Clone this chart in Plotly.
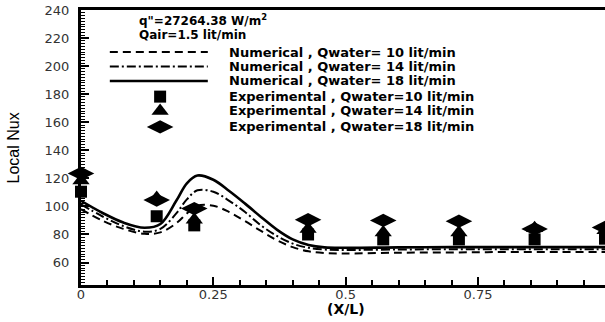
import plotly.graph_objects as go

# ---------------- data ----------------
x_num = [0, 0.04, 0.08, 0.12, 0.15, 0.18, 0.20, 0.22, 0.25, 0.28, 0.31, 0.34,
         0.37, 0.40, 0.43, 0.46, 0.50, 0.60, 0.70, 0.80, 0.90, 1.00]
num_q18 = [104, 95.5, 88.5, 84.8, 87.5, 104, 116.5, 122, 119, 111, 102, 92.5,
           83.5, 76.5, 72.5, 70.8, 70.5, 70.8, 71, 71, 71, 71]
num_q14 = [101.5, 93, 86, 82, 84, 95, 105, 111.5, 110.5, 104, 96, 86.5,
           79, 73.5, 70.5, 69.3, 69, 69.3, 69.5, 69.5, 69.5, 69.5]
num_q10 = [98, 90, 84, 80.5, 81.5, 88, 95, 100.5, 100.5, 96, 89.5, 82.5,
           76, 71, 68, 66.8, 66.5, 67, 67.2, 67.5, 67.5, 67.5]

x_exp = [0, 0.143, 0.214, 0.429, 0.571, 0.714, 0.857, 0.99]
exp_q10 = [110.5, 93, 86.5, 80, 76.5, 76.5, 76.5, 77]
exp_q14 = [118.5, 106, 90.5, 84, 81.5, 81.5, 84.5, 83]
exp_q18 = [123.5, 104.5, 98.5, 90.5, 90, 89.5, 84, 85]

legend_labels = [
    "Numerical , Qwater= 10 lit/min",
    "Numerical , Qwater= 14 lit/min",
    "Numerical , Qwater= 18 lit/min",
    "Experimental , Qwater=10 lit/min",
    "Experimental , Qwater=14 lit/min",
    "Experimental , Qwater=18 lit/min",
]
header_lines = ['q"=27264.38 W/m<sup>2</sup>', "Qair=1.5 lit/min"]

# ---------------- styles ----------------
TXT = "DejaVu Sans"
line_styles = [dict(color="black", width=2, dash="8px,5px"),
               dict(color="black", width=2, dash="9px,3px,2px,3px"),
               dict(color="black", width=2.6, dash="solid")]
marker_styles = [dict(symbol="square", size=12, color="black"),
                 dict(symbol="triangle-up", size=15, color="black"),
                 dict(symbol="diamond-wide", size=19, color="black")]

fig = go.Figure()
for ys, st in zip([num_q10, num_q14, num_q18], line_styles):
    fig.add_trace(go.Scatter(x=x_num, y=ys, mode="lines", line=st,
                             line_shape="spline", showlegend=False))
for ys, st in zip([exp_q10, exp_q14, exp_q18], marker_styles):
    fig.add_trace(go.Scatter(x=x_exp, y=ys, mode="markers", marker=st,
                             cliponaxis=False, showlegend=False))

# ---------------- custom legend (keys on an overlay 0..1 axis) ----------------
row_y = [0.847, 0.795, 0.742, 0.685, 0.633, 0.575]
key_x0, key_x1, key_xm, text_x = 0.055, 0.242, 0.151, 0.279
for i in range(3):
    fig.add_trace(go.Scatter(x=[key_x0, key_x1], y=[row_y[i], row_y[i]],
                             mode="lines", line=line_styles[i],
                             xaxis="x2", yaxis="y2", showlegend=False))
for i in range(3):
    fig.add_trace(go.Scatter(x=[key_xm], y=[row_y[3 + i]], mode="markers",
                             marker=marker_styles[i], xaxis="x2", yaxis="y2",
                             showlegend=False))

ann = []
for lab, yy in zip(legend_labels, row_y):
    ann.append(dict(x=text_x, y=yy, xref="paper", yref="paper", text=lab,
                    showarrow=False, xanchor="left", yanchor="middle",
                    font=dict(family=TXT, size=13, color="black", weight="bold")))
ann.append(dict(x=0.107, y=0.963, xref="paper", yref="paper", text=header_lines[0],
                showarrow=False, xanchor="left", yanchor="middle",
                font=dict(family=TXT, size=12, color="black", weight="bold")))
ann.append(dict(x=0.107, y=0.908, xref="paper", yref="paper", text=header_lines[1],
                showarrow=False, xanchor="left", yanchor="middle",
                font=dict(family=TXT, size=12, color="black", weight="bold")))
ann.append(dict(x=-0.128, y=0.5, xref="paper", yref="paper", text="Local Nux",
                showarrow=False, textangle=-90, xanchor="center", yanchor="middle",
                font=dict(family="Liberation Sans Narrow, Liberation Sans", size=16,
                          color="black")))
ann.append(dict(x=0.506, y=-0.088, xref="paper", yref="paper", text="(X/L)",
                showarrow=False, xanchor="center", yanchor="middle",
                font=dict(family=TXT, size=14, color="black", weight="bold")))

fig.update_layout(
    width=605, height=322,
    margin=dict(l=81, r=0, t=10, b=37),
    paper_bgcolor="white", plot_bgcolor="white",
    annotations=ann,
    xaxis=dict(range=[0, 0.99], tickmode="linear", tick0=0, dtick=0.25,
               ticks="inside", ticklen=8, tickwidth=2, tickcolor="black",
               minor=dict(tickmode="linear", tick0=0, dtick=0.05, ticks="inside",
                          ticklen=5, tickwidth=1.5, tickcolor="black"),
               showline=True, linewidth=3, linecolor="black", mirror=True,
               showgrid=False, zeroline=False, ticklabelstandoff=-5,
               tickfont=dict(family=TXT, size=13, color="#333")),
    yaxis=dict(range=[44, 240], tickmode="linear", tick0=0, dtick=20,
               ticks="inside", ticklen=8, tickwidth=2, tickcolor="black",
               minor=dict(tickmode="linear", tick0=0, dtick=2, ticks="inside",
                          ticklen=4, tickwidth=1, tickcolor="black"),
               showline=True, linewidth=3, linecolor="black", mirror=False,
               showgrid=False, zeroline=False, ticklabelstandoff=6,
               tickfont=dict(family=TXT, size=13, color="#333")),
    xaxis2=dict(overlaying="x", range=[0, 1], visible=False),
    yaxis2=dict(overlaying="y", range=[0, 1], visible=False),
)

fig.write_html("out.html")
